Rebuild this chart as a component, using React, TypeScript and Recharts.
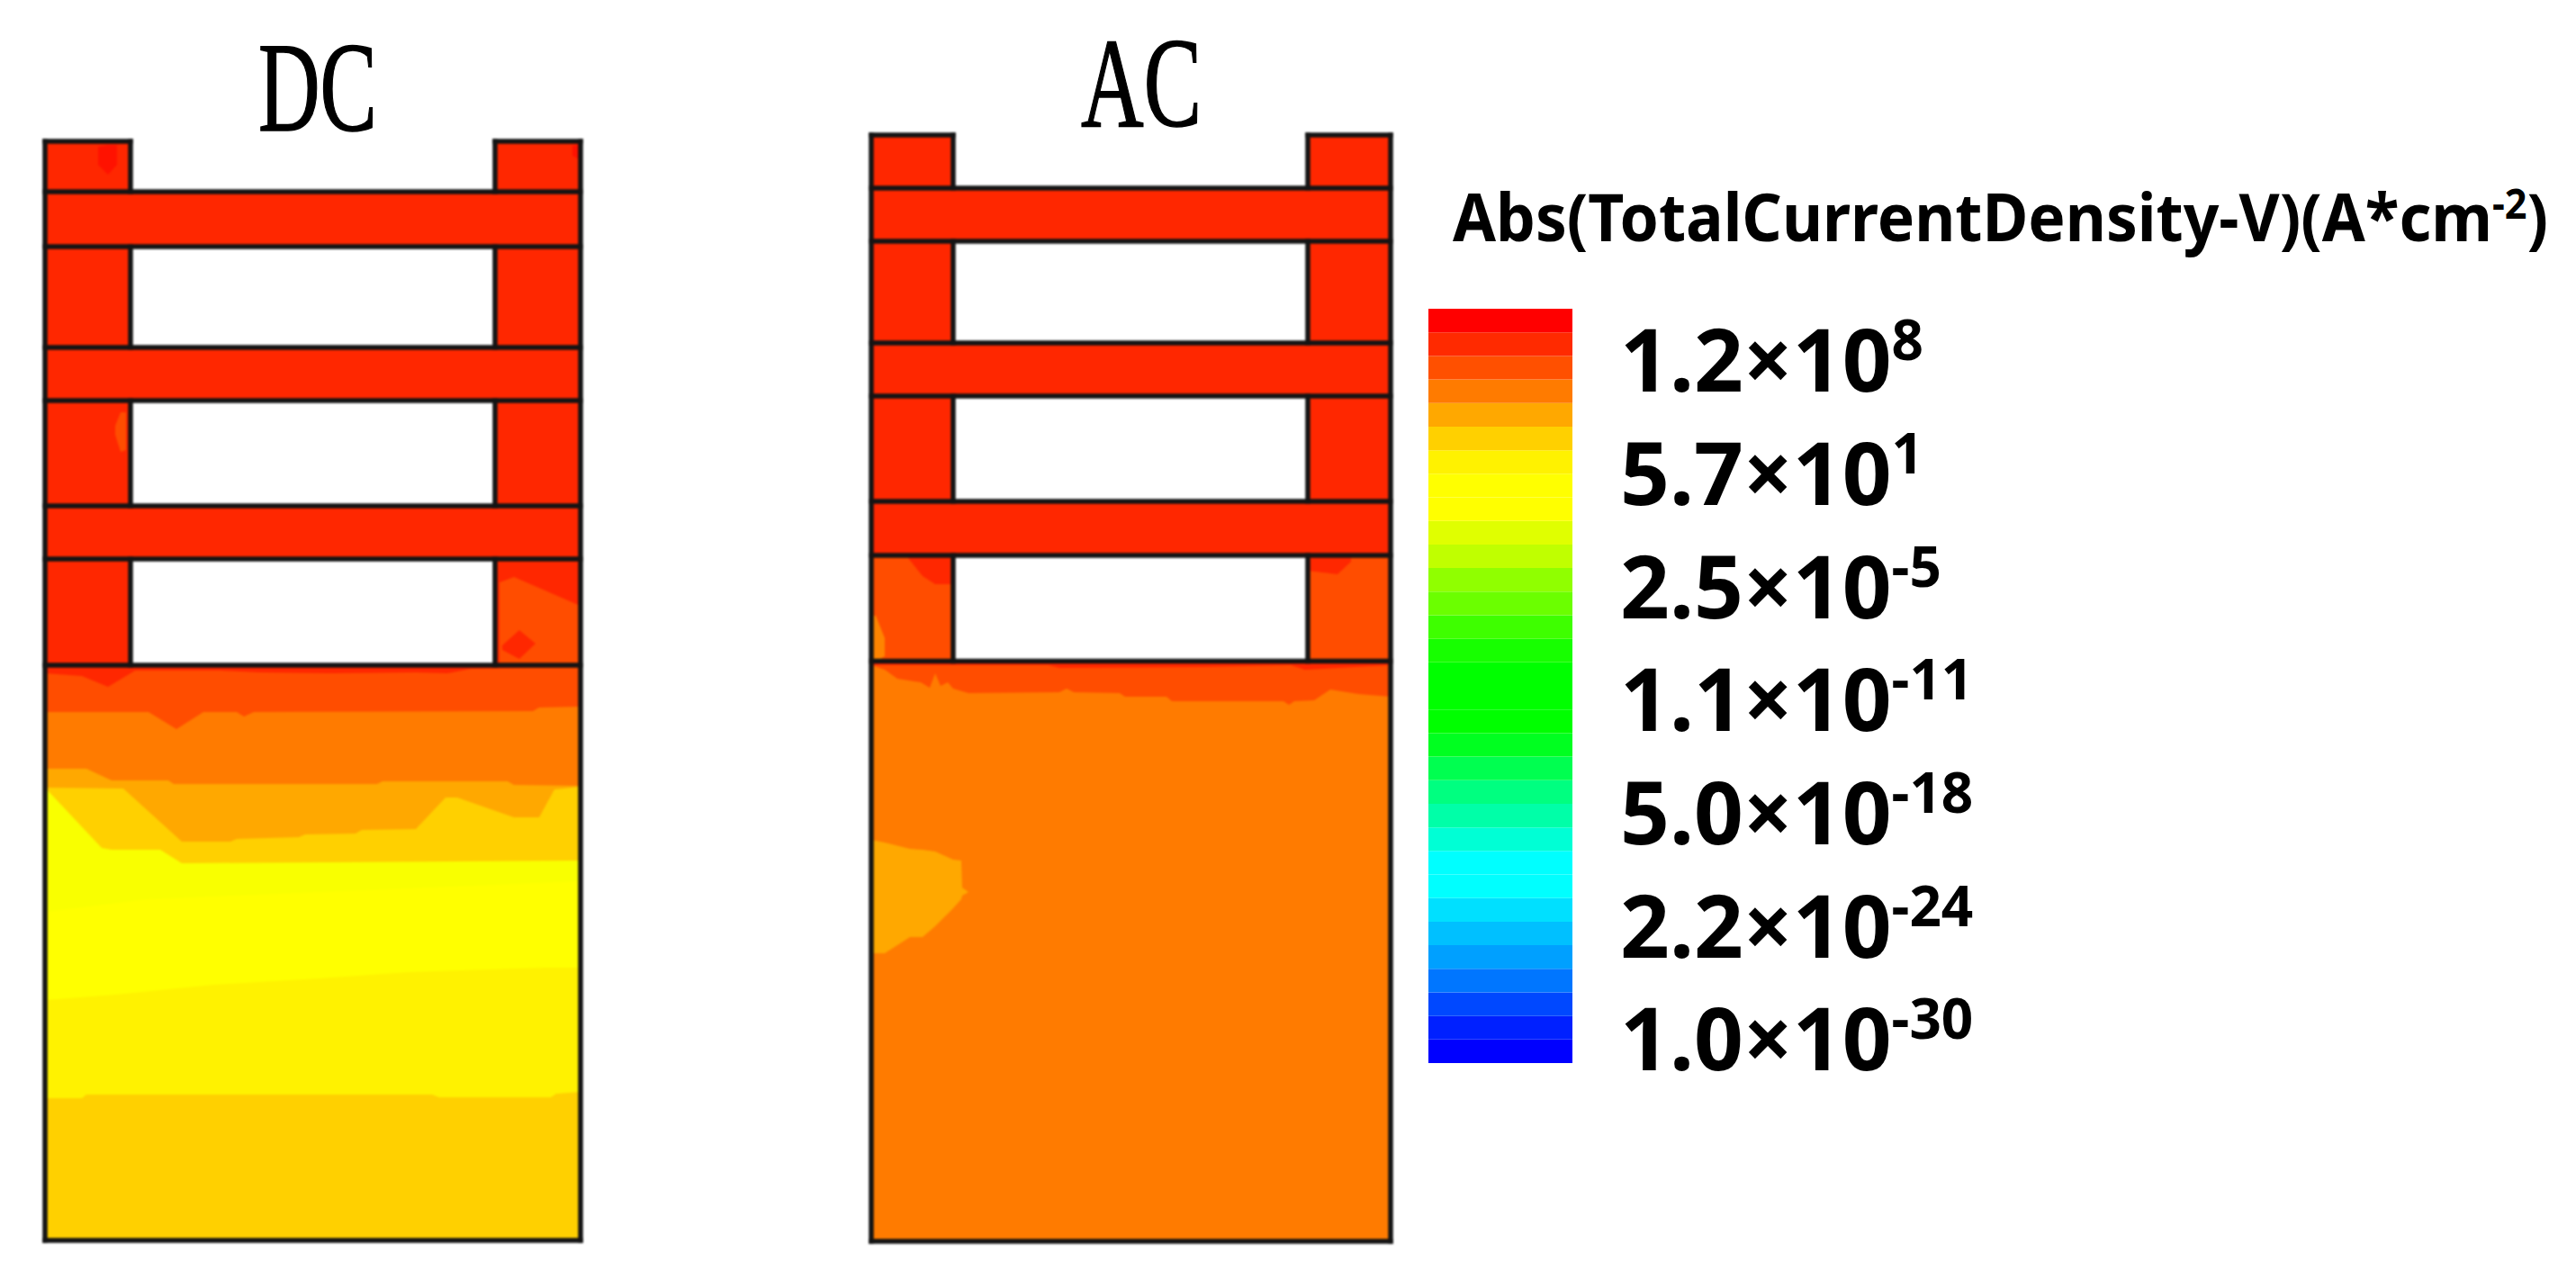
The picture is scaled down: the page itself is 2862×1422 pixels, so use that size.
import React from "react";
import { Area, Bar, BarChart, ComposedChart, Line, XAxis, YAxis } from "recharts";

type Pair = [number, number];
type Row = [number, number, number];

// colour levels of the contour scale
const RED_0 = "#ff1200";
const RED_1 = "#ff2700";
const RED_2 = "#ff4d00";
const ORANGE_1 = "#ff7b00";
const ORANGE_2 = "#ffa800";
const AMBER = "#ffd000";
const YELLOW_1 = "#fff200";
const YELLOW_2 = "#ffff00";
const YELLOW_3 = "#f9ff00";

// geometry of the two devices, in the units of their own axes
const dcSize = { w: 595, h: 1221, colL: 95, colR: 500, floor: 639 };
const dcRungs: Pair[] = [[1104, 1165], [933, 992], [757, 816]];
const acSize = { w: 577, h: 1229, colL: 91, colR: 485, floor: 644.5 };
const acRungs: Pair[] = [[1111, 1170], [939, 998], [762, 822]];

// DC: upper edge of each contour level in the substrate
const dcRedEdge: Pair[] = [[0, 630], [41, 627], [70, 615], [100, 633], [195, 633], [239, 631], [317, 630], [412, 631], [447, 630], [473, 635], [595, 637]];
const dcOrangeEdge: Pair[] = [[0, 587], [115, 587], [146, 568], [176, 587], [213, 587], [221, 582], [232, 587], [542, 588], [549, 592], [595, 593]];
const dcOrange2Edge: Pair[] = [[0, 524], [46, 524], [74, 511], [137, 511], [143, 507], [369, 507], [375, 510], [514, 510], [521, 506], [595, 505]];
const dcAmberEdge: Pair[] = [[0, 503], [87, 502], [152, 443], [206, 443], [213, 446], [282, 448], [289, 451], [345, 452], [352, 456], [412, 457], [445, 492], [458, 492], [521, 470], [549, 470], [566, 501], [595, 504]];
const dcYellowEdge: Pair[] = [[0, 503], [63, 436], [74, 434], [128, 434], [152, 419], [595, 422]];
const dcYellowCoreEdge: Pair[] = [[0, 365], [113, 379], [595, 399]];
const dcYellowLowEdge: Pair[] = [[0, 267], [78, 273], [187, 284], [304, 291], [404, 298], [555, 303], [595, 303]];
const dcAmberLowEdge: Pair[] = [[0, 158], [41, 158], [46, 162], [430, 162], [438, 159], [562, 159], [568, 163], [595, 165]];

// DC: small patches inside the columns
const dcRightPatch: Row[] = [[505, 639, 731], [521, 639, 737], [551, 639, 724], [590, 639, 707], [595, 639, 705]];
const dcRightSpot: Row[] = [[508, 656, 661], [527, 646, 678], [545, 663, 663]];
const dcTopSpot: Row[] = [[59, 1195, 1215], [70, 1184, 1217], [80, 1195, 1217]];
const dcLeftSpot: Row[] = [[78, 895, 905], [84, 876, 920], [90, 878, 920]];
const dcTopRightSpot: Row[] = [[586, 1205, 1216], [595, 1200, 1218]];

// AC: contour levels and patches
const acRedEdge: Pair[] = [[0, 640], [197, 640], [209, 637], [367, 638], [466, 640], [482, 635], [577, 640]];
const acOrangeEdge: Pair[] = [[0, 640], [15, 635], [29, 625], [55, 621], [65, 615], [71, 631], [77, 617], [85, 621], [91, 614], [108, 609], [209, 610], [217, 614], [225, 610], [276, 609], [282, 605], [328, 605], [334, 600], [458, 600], [464, 596], [470, 600], [492, 601], [510, 613], [541, 608], [577, 605]];
const acIsland: Row[] = [[0, 320, 446], [15, 320, 443], [43, 338, 436], [57, 338, 435], [71, 350, 433], [91, 370, 424], [100, 380, 423], [101, 384, 393], [108, 388, 388]];
const acLeftCorner: Row[] = [[41, 759, 762], [57, 739, 762], [71, 730, 762], [91, 730, 762]];
const acRightCorner: Row[] = [[485, 745, 762], [518, 741, 762], [533, 755, 762]];
const acLeftSpot: Row[] = [[0, 644, 695], [5, 644, 695], [15, 650, 670]];

// colour bar
const scaleColors = [
  "#ff0000", "#ff2a00", "#ff5000", "#ff7b00", "#ffa800", "#ffd000", "#fff200", "#ffff00",
  "#ffff00", "#e0ff00", "#c0ff00", "#90ff00", "#6bff00", "#3eff00", "#17ff00", "#00ff00",
  "#00ff00", "#00ff00", "#00ff20", "#00ff50", "#00ff80", "#00ffa8", "#00ffd5", "#00ffff",
  "#00ffff", "#00e0ff", "#00c0ff", "#00a0ff", "#0076ff", "#0048ff", "#0020ff", "#0000ff",
];
const scaleBases = ["1.2", "5.7", "2.5", "1.1", "5.0", "2.2", "1.0"];
const scaleExponents = ["8", "1", "-5", "-11", "-18", "-24", "-30"];
const scaleTicks = [29.86, 25.05, 20.24, 15.46, 10.65, 5.84, 1.07];

const under = (pts: Pair[]) => pts.map(([x, y]) => ({ x, r: [0, y] }));
const rows = (list: Row[]) => list.map(([x, lo, hi]) => ({ x, r: [lo, hi] }));
const box = (x1: number, x2: number, y1: number, y2: number) => [
  { x: x1, r: [y1, y2] },
  { x: x2, r: [y1, y2] },
];

type Size = typeof dcSize;

function structure(s: Size, rungs: Pair[]) {
  return [
    box(0, s.colL, s.floor, s.h),
    box(s.colR, s.w, s.floor, s.h),
    ...rungs.map(([lo, hi]) => box(0, s.w, lo, hi)),
  ];
}

function outline(s: Size, rungs: Pair[]) {
  const seg = (x1: number, y1: number, x2: number, y2: number) => [
    { x: x1, y: y1 },
    { x: x2, y: y2 },
  ];
  const out = [
    seg(0, 0, 0, s.h),
    seg(s.w, 0, s.w, s.h),
    seg(0, 0, s.w, 0),
    seg(0, s.h, s.colL, s.h),
    seg(s.colR, s.h, s.w, s.h),
    seg(0, s.floor, s.w, s.floor),
  ];
  let upper = s.h;
  for (const [lo, hi] of rungs) {
    out.push(seg(0, lo, s.w, lo), seg(0, hi, s.w, hi));
    out.push(seg(s.colL, hi, s.colL, upper), seg(s.colR, hi, s.colR, upper));
    upper = lo;
  }
  out.push(seg(s.colL, s.floor, s.colL, upper), seg(s.colR, s.floor, s.colR, upper));
  return out;
}

const dcRegions = [
  { fill: RED_1, data: box(0, dcSize.w, 0, dcSize.floor) },
  { fill: RED_2, data: under(dcRedEdge) },
  { fill: ORANGE_1, data: under(dcOrangeEdge) },
  { fill: ORANGE_2, data: under(dcOrange2Edge) },
  { fill: AMBER, data: under(dcAmberEdge) },
  { fill: YELLOW_3, data: under(dcYellowEdge) },
  { fill: YELLOW_2, data: under(dcYellowCoreEdge) },
  { fill: YELLOW_1, data: under(dcYellowLowEdge) },
  { fill: AMBER, data: under(dcAmberLowEdge) },
  ...structure(dcSize, dcRungs).map((data) => ({ fill: RED_1, data })),
  { fill: RED_2, data: rows(dcRightPatch) },
  { fill: RED_1, data: rows(dcRightSpot) },
  { fill: RED_0, data: rows(dcTopSpot) },
  { fill: RED_2, data: rows(dcLeftSpot) },
  { fill: RED_0, data: rows(dcTopRightSpot) },
];

const acRegions = [
  { fill: RED_1, data: box(0, acSize.w, 0, acSize.floor) },
  { fill: RED_2, data: under(acRedEdge) },
  { fill: ORANGE_1, data: under(acOrangeEdge) },
  { fill: ORANGE_2, data: rows(acIsland) },
  ...structure(acSize, acRungs).map((data) => ({ fill: RED_1, data })),
  { fill: RED_2, data: box(0, acSize.colL, acSize.floor, 762) },
  { fill: RED_2, data: box(acSize.colR, acSize.w, acSize.floor, 762) },
  { fill: RED_1, data: rows(acLeftCorner) },
  { fill: RED_1, data: rows(acRightCorner) },
  { fill: "#ff8400", data: rows(acLeftSpot) },
];

const PAD = 20;
const SCALE_PAD = 50;

function Device({ left, top, size, regions, lines }: any) {
  return (
    <div style={{ position: "absolute", left: left - PAD, top: top - PAD, filter: "blur(1px)" }}>
      <ComposedChart
        width={size.w + PAD * 2}
        height={size.h + PAD * 2}
        margin={{ top: PAD, right: PAD, bottom: PAD, left: PAD }}
      >
        <XAxis type="number" dataKey="x" domain={[0, size.w]} hide />
        <YAxis type="number" domain={[0, size.h]} hide />
        {regions.map((reg: any, i: number) => (
          <Area
            key={i}
            data={reg.data}
            dataKey="r"
            type="linear"
            fill={reg.fill}
            fillOpacity={1}
            stroke="none"
            dot={false}
            activeDot={false}
            isAnimationActive={false}
          />
        ))}
        {lines.map((pts: any, i: number) => (
          <Line
            key={i}
            data={pts}
            dataKey="y"
            type="linear"
            stroke="#141414"
            strokeWidth={5.5}
            strokeLinecap="square"
            dot={false}
            activeDot={false}
            isAnimationActive={false}
          />
        ))}
      </ComposedChart>
    </div>
  );
}

function ScaleTick({ x, y, index }: any) {
  return (
    <text x={x + 53} y={y + 36} fontFamily="'Noto Sans'" fontWeight={700} fontSize={96} fill="#000">
      {scaleBases[index]}×10
      <tspan dy={-35} fontSize={62}>{scaleExponents[index]}</tspan>
    </text>
  );
}

const scaleRow = [Object.fromEntries(scaleColors.map((_, i) => [`b${i}`, 1]))];

export default function App() {
  return (
    <div style={{ position: "absolute", left: 0, top: 0, width: 2862, height: 1422, background: "#fff", overflow: "hidden" }}>
      <Device left={50} top={157} size={dcSize} regions={dcRegions} lines={outline(dcSize, dcRungs)} />
      <Device left={968} top={150} size={acSize} regions={acRegions} lines={outline(acSize, acRungs)} />

      <div style={{ position: "absolute", left: 1587, top: 343 - SCALE_PAD, filter: "blur(0.7px)" }}>
        <BarChart
          width={700}
          height={838 + SCALE_PAD * 2}
          data={scaleRow}
          barCategoryGap={0}
          margin={{ top: SCALE_PAD, right: 0, bottom: SCALE_PAD, left: 0 }}
        >
          <XAxis type="category" hide />
          <YAxis
            orientation="right"
            type="number"
            domain={[0, scaleColors.length]}
            ticks={scaleTicks}
            interval={0}
            width={540}
            axisLine={false}
            tickLine={false}
            tickSize={0}
            tickMargin={0}
            tick={<ScaleTick />}
          />
          {[...scaleColors].reverse().map((c, i) => (
            <Bar
              key={i}
              dataKey={`b${i}`}
              stackId="scale"
              fill={c}
              isAnimationActive={false}
            />
          ))}
        </BarChart>
      </div>

      <svg width={2862} height={1422} style={{ position: "absolute", left: 0, top: 0, pointerEvents: "none" }}>
        <text x={287} y={145} textLength={132} lengthAdjust="spacingAndGlyphs" fontFamily="'Liberation Serif'" fontSize={142} fill="#000" stroke="#000" strokeWidth={1.5}>DC</text>
        <text x={1201} y={140} textLength={134} lengthAdjust="spacingAndGlyphs" fontFamily="'Liberation Serif'" fontSize={142} fill="#000" stroke="#000" strokeWidth={1.5}>AC</text>
        <text x={1614} y={268} textLength={1217} lengthAdjust="spacingAndGlyphs" fontFamily="'Noto Sans'" fontWeight={700} fontSize={74} fill="#000">
          Abs(TotalCurrentDensity-V)(A*cm
          <tspan dy={-25} fontSize={46}>-2</tspan>
          <tspan dy={25}>)</tspan>
        </text>
      </svg>
    </div>
  );
}
